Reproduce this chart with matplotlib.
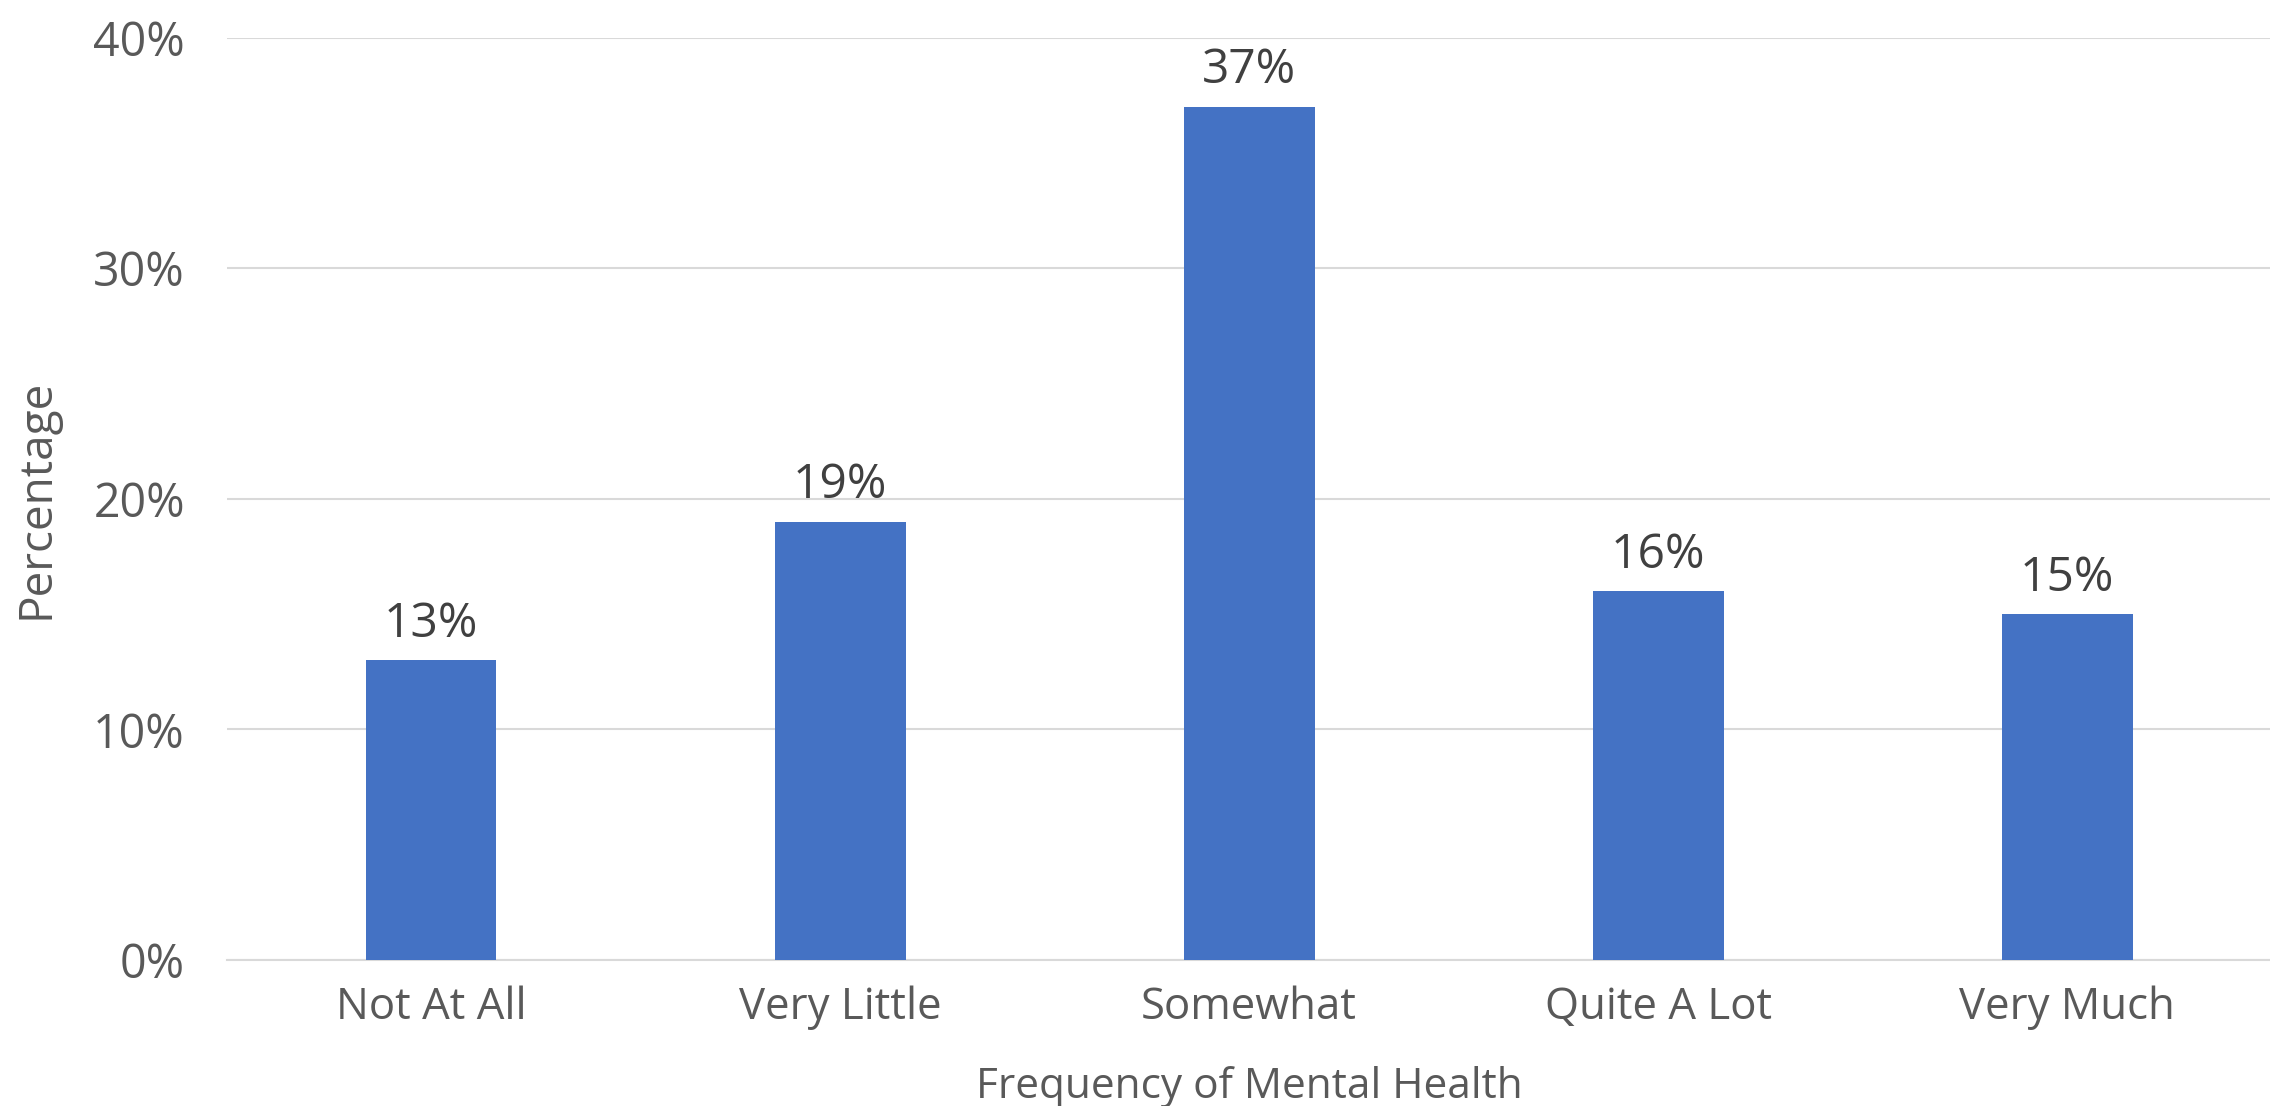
import numpy as np
import matplotlib.pyplot as plt
from matplotlib.ticker import PercentFormatter

categories = ["Not At All", "Very Little", "Somewhat", "Quite A Lot", "Very Much"]
values = [13, 19, 37, 16, 15]
labels = ["13%", "19%", "37%", "16%", "15%"]
yticks = [0, 10, 20, 30, 40]

plt.rcParams['font.family'] = ['Open Sans', 'DejaVu Sans']

fig = plt.figure(figsize=(22.7, 11.06), dpi=100)
ax = fig.add_axes([0.0998, 0.132, 0.9009, 0.834])

x = np.arange(len(categories))
bars = ax.bar(x, values, width=0.32, color="#4472C4", zorder=3)

# data labels above bars
for b, lab in zip(bars, labels):
    ax.annotate(lab, (b.get_x() + b.get_width() / 2, b.get_height()),
                xytext=(0, 9), textcoords="offset points",
                ha="center", va="bottom", fontsize=34.5, color="#404040")

ax.set_xlim(-0.5, len(categories) - 0.5)
ax.set_ylim(0, 40)
ax.set_yticks(yticks)
ax.yaxis.set_major_formatter(PercentFormatter(decimals=0))
ax.set_xticks(x)
ax.set_xticklabels(categories)

ax.grid(axis="y", color="#D9D9D9", linewidth=1.5, zorder=0)
ax.tick_params(axis="y", length=0, pad=30, labelsize=33.5, labelcolor="#595959")
ax.tick_params(axis="x", length=0, pad=18, labelsize=31.5, labelcolor="#595959")
for s in ["top", "right", "left"]:
    ax.spines[s].set_visible(False)
ax.spines["bottom"].set_color("#D9D9D9")
ax.spines["bottom"].set_linewidth(1.5)

ax.set_xlabel("Frequency of Mental Health", fontsize=30.5, color="#595959", labelpad=26)
ax.set_ylabel("Percentage", fontsize=33, color="#595959", labelpad=24)

fig.savefig("out.png", dpi=100)
